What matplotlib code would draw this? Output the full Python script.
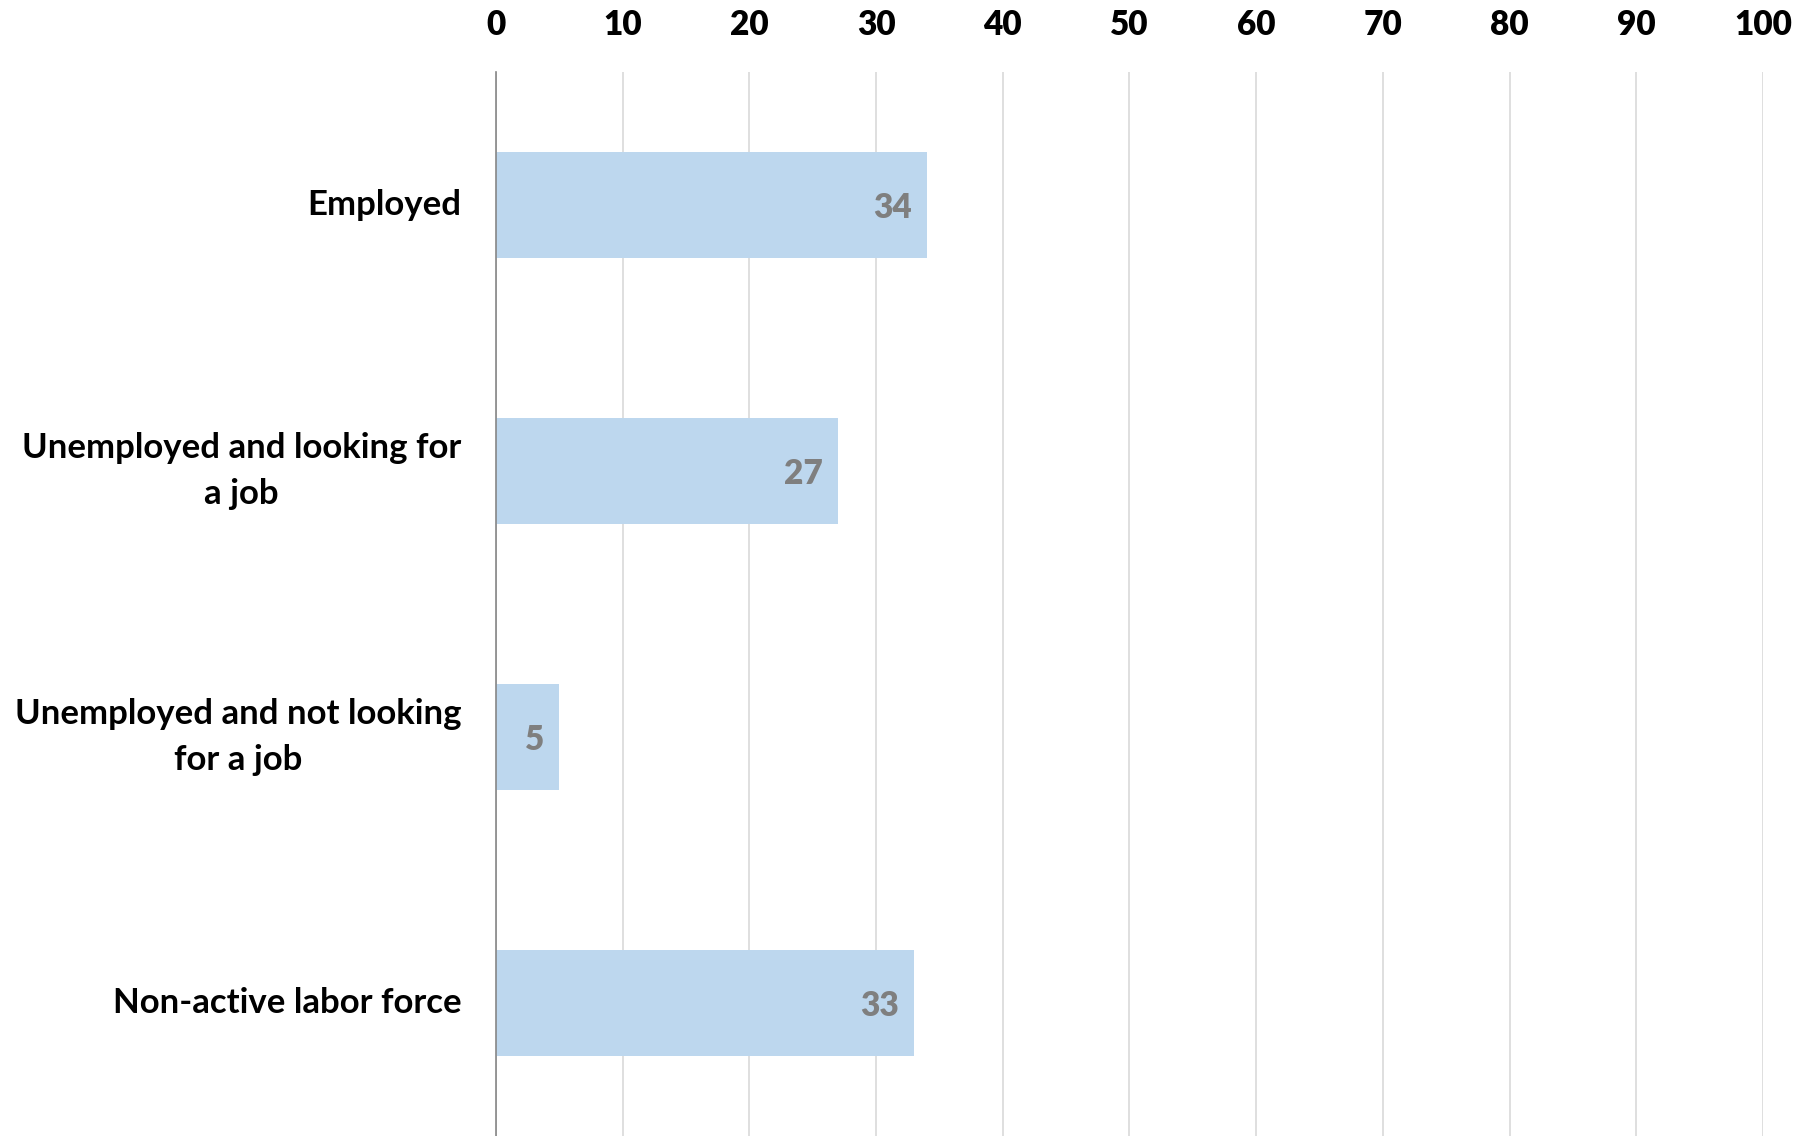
import matplotlib.pyplot as plt

categories = ['Employed', 'Unemployed and looking for\na job',
              'Unemployed and not looking\nfor a job', 'Non-active labor force']
values = [34, 27, 5, 33]
xticks = [0, 10, 20, 30, 40, 50, 60, 70, 80, 90, 100]

plt.rcParams['font.family'] = ['Lato', 'DejaVu Sans']
plt.rcParams['font.weight'] = 'bold'

fig = plt.figure(figsize=(18.14, 11.36), dpi=100)
ax = fig.add_axes([0.2734, 0.0, 0.6985, 0.9366])

ypos = range(len(categories))
bars = ax.barh(ypos, values, height=0.4, color='#BDD7EE', zorder=2)

# value labels inside the bar end
for b, v in zip(bars, values):
    ax.annotate(str(v), (b.get_width(), b.get_y() + b.get_height() / 2),
                xytext=(-11, -2), textcoords='offset points',
                ha='right', va='center', fontsize=24, fontweight='heavy',
                color='#7F7F7F')

ax.set_xlim(0, 100)
ax.set_ylim(3.5, -0.5)
ax.set_xticks(xticks)
ax.xaxis.tick_top()
ax.set_yticks(list(ypos))
ax.set_yticklabels(categories, multialignment='center', linespacing=1.55,
                   va='center')
ax.tick_params(axis='x', length=0, pad=22, labelsize=24)
ax.tick_params(axis='y', length=0, pad=25, labelsize=25)
for lab in ax.get_xticklabels():
    lab.set_fontweight('heavy')
for lab in ax.get_yticklabels():
    lab.set_fontweight('bold')

ax.grid(axis='x', color='#D9D9D9', linewidth=1.2, zorder=0)
for s in ['top', 'right', 'bottom']:
    ax.spines[s].set_visible(False)
ax.spines['left'].set_color('#868686')
ax.spines['left'].set_linewidth(1.2)
ax.spines['left'].set_zorder(3)

fig.savefig('out.png', dpi=100)
